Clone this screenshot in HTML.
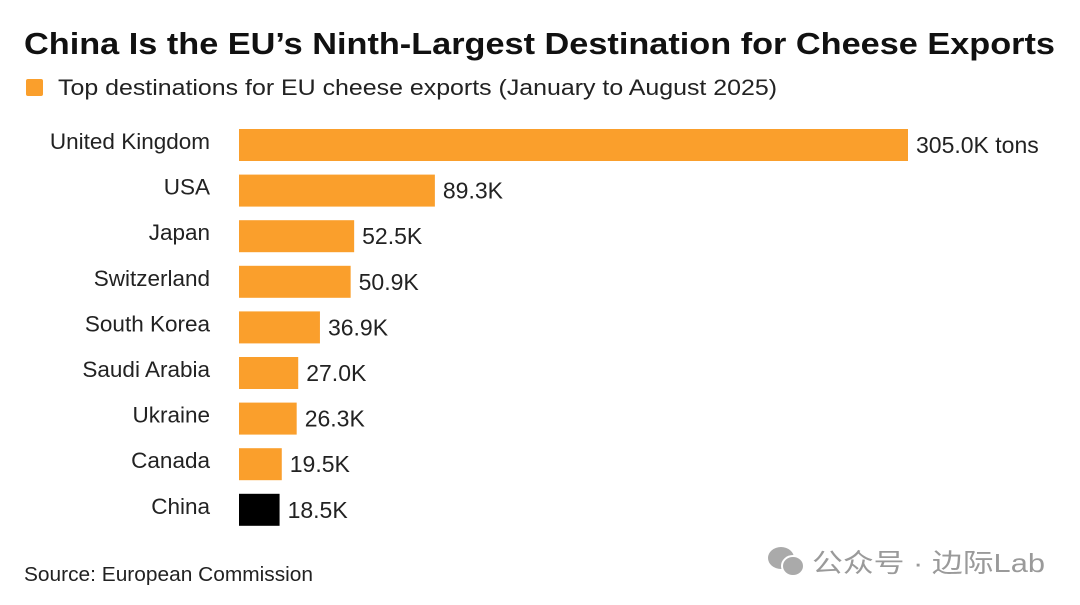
<!DOCTYPE html>
<html><head><meta charset="utf-8"><style>
html,body{margin:0;padding:0;background:#fff;width:1080px;height:605px;overflow:hidden}
svg{display:block;font-family:"Liberation Sans","Noto Sans CJK SC",sans-serif}
</style></head><body>
<svg id="chart" width="1080" height="605">
<text x="24" y="54" font-size="31" font-weight="bold" fill="#111" textLength="1031" lengthAdjust="spacingAndGlyphs">China Is the EU’s Ninth-Largest Destination for Cheese Exports</text>
<rect x="26" y="79" width="17" height="17" rx="2" fill="#fa9f2c"/>
<text x="58" y="95" font-size="22" fill="#222" textLength="719" lengthAdjust="spacingAndGlyphs">Top destinations for EU cheese exports (January to August 2025)</text>
<g id="bars"></g>
<text x="24" y="581" font-size="20.5" fill="#222" textLength="289" lengthAdjust="spacingAndGlyphs">Source: European Commission</text>
<g>
<ellipse cx="781" cy="558" rx="13" ry="11" fill="#aaa"/>
<ellipse cx="793" cy="566" rx="11" ry="10" fill="#aaa" stroke="#fff" stroke-width="2"/>
<text x="812" y="572" font-size="26" fill="#9a9a9a" textLength="233" lengthAdjust="spacingAndGlyphs">公众号 · 边际Lab</text>
</g>
</svg>
<script>
const categories=["United Kingdom","USA","Japan","Switzerland","South Korea","Saudi Arabia","Ukraine","Canada","China"];
const values=[305.0,89.3,52.5,50.9,36.9,27.0,26.3,19.5,18.5];
const valueLabels=["305.0K tons","89.3K","52.5K","50.9K","36.9K","27.0K","26.3K","19.5K","18.5K"];
const highlight=["China"];
const x0=239,x1=908,maxV=305;
const xScale=v=>x0+(v/maxV)*(x1-x0);
const yScale=i=>129+i*45.6;
const bh=32;
const g=document.getElementById('bars');
const NS='http://www.w3.org/2000/svg';
categories.forEach((c,i)=>{
  const y=yScale(i);
  const r=document.createElementNS(NS,'rect');
  r.setAttribute('x',x0);r.setAttribute('y',y);
  r.setAttribute('width',xScale(values[i])-x0);r.setAttribute('height',bh);
  r.setAttribute('fill',highlight.includes(c)?'#000':'#fa9f2c');
  
  
  g.appendChild(r);
  const t=document.createElementNS(NS,'text');
  t.setAttribute('x',210);t.setAttribute('y',y+bh/2+4);
  t.setAttribute('text-anchor','end');t.setAttribute('font-size','22.5');t.setAttribute('fill','#222');
  t.textContent=c;
  
  
  g.appendChild(t);
  const v=document.createElementNS(NS,'text');
  v.setAttribute('x',xScale(values[i])+8);v.setAttribute('y',y+bh/2+8);
  v.setAttribute('font-size','23');v.setAttribute('fill','#222');
  v.textContent=valueLabels[i];
  
  
  g.appendChild(v);
});
</script>
</body></html>
